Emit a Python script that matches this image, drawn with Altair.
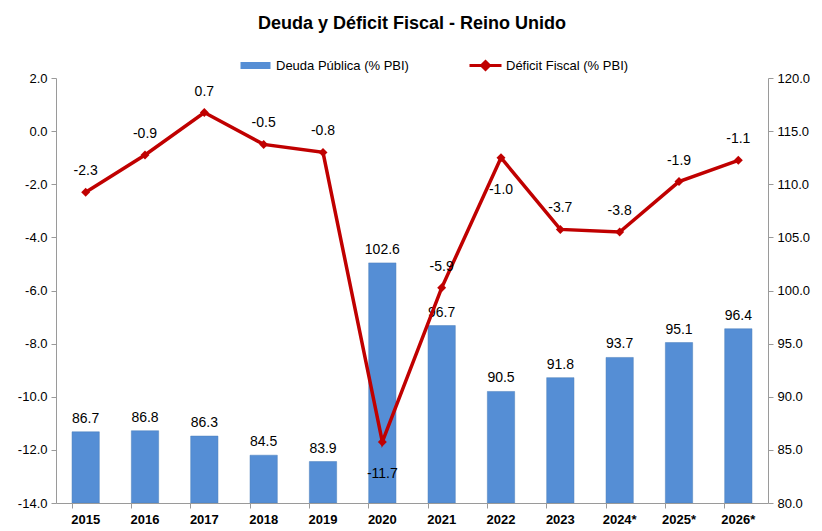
import altair as alt
import pandas as pd

years = ["2015", "2016", "2017", "2018", "2019", "2020", "2021", "2022", "2023", "2024*", "2025*", "2026*"]
deuda = [86.7, 86.8, 86.3, 84.5, 83.9, 102.6, 96.7, 90.5, 91.8, 93.7, 95.1, 96.4]
deficit = [-2.3, -0.9, 0.7, -0.5, -0.8, -11.7, -5.9, -1.0, -3.7, -3.8, -1.9, -1.1]
labels_below = ["2020", "2022"]

df = pd.DataFrame({"year": years, "deuda": deuda, "deficit": deficit,
                   "s1": "Deuda Pública (% PBI)", "s2": "Déficit Fiscal (% PBI)"})

FONT = "Liberation Sans"
BLUE = "#558ED5"
RED = "#C00000"
AX = "#9A9A9A"
LBL = "replace(format(datum.value, '.1f'), '\u2212', '-')"

x = alt.X("year:N", sort=years, title=None,
          scale=alt.Scale(paddingInner=0.54, paddingOuter=0.27),
          axis=alt.Axis(labelAngle=0, labelFontWeight="bold", labelFontSize=13, labelFont=FONT,
                        labelColor="black", bandPosition=0, tickSize=5, domainColor=AX,
                        tickColor=AX, labelPadding=5))

yr = alt.Y("deuda:Q", title=None,
           scale=alt.Scale(domain=[80, 120], nice=False, zero=False),
           axis=alt.Axis(orient="right", values=[80, 85, 90, 95, 100, 105, 110, 115, 120], labelExpr=LBL,
                         grid=False, domainColor=AX, tickColor=AX, tickSize=5,
                         labelFont=FONT, labelFontSize=13, labelColor="black", labelPadding=4))

yl = alt.Y("deficit:Q", title=None,
           scale=alt.Scale(domain=[-14, 2], nice=False, zero=False),
           axis=alt.Axis(orient="left", values=list(range(-14, 3, 2)), labelExpr=LBL,
                         grid=False, domainColor=AX, tickColor=AX, tickSize=5,
                         labelFont=FONT, labelFontSize=13, labelColor="black", labelPadding=4))

bars = alt.Chart(df).mark_bar(stroke="#4A7EBB", strokeWidth=0.5, clip=True).encode(
    x=x, y=yr, y2=alt.datum(80),
    color=alt.Color("s1:N", scale=alt.Scale(range=[BLUE]),
                    legend=alt.Legend(title=None, orient="none", legendX=183, legendY=-19,
                                      symbolType="M-1,-0.7L5,-0.7L5,0.7L-1,0.7Z", symbolSize=100,
                                      labelOffset=24, labelFont=FONT, labelFontSize=13,
                                      labelColor="black", symbolStrokeWidth=0)))
bar_text = alt.Chart(df).transform_calculate(
    lab="replace(format(datum.deuda, '.1f'), '\u2212', '-')"
).mark_text(baseline="bottom", dy=-6, font=FONT, fontSize=14, color="black").encode(
    x=x, y=yr, text="lab:N")

right = alt.layer(bars, bar_text)

line = alt.Chart(df).mark_line(strokeWidth=3.5).encode(
    x=x, y=yl,
    stroke=alt.Stroke("s2:N", scale=alt.Scale(range=[RED]),
                      legend=alt.Legend(title=None, orient="none", legendX=412, legendY=-19,
                                        symbolType="M-1,0L5.4,0M2.2,-0.8L3,0L2.2,0.8L1.4,0Z",
                                        symbolSize=100, symbolStrokeWidth=3, symbolFillColor=RED,
                                        labelOffset=25, labelFont=FONT, labelFontSize=13,
                                        labelColor="black")))
pts = alt.Chart(df).mark_point(shape="diamond", filled=True, size=80, color=RED, opacity=1).encode(x=x, y=yl)

def_lab = "replace(format(datum.deficit, '.1f'), '\u2212', '-')"
txt_above = alt.Chart(df).transform_filter(
    ~alt.FieldOneOfPredicate(field="year", oneOf=labels_below)
).transform_calculate(lab=def_lab).mark_text(
    baseline="bottom", dy=-14, font=FONT, fontSize=14, color="black").encode(
    x=x, y=yl, text="lab:N")
txt_below = alt.Chart(df).transform_filter(
    alt.FieldOneOfPredicate(field="year", oneOf=labels_below)
).transform_calculate(lab=def_lab).mark_text(
    baseline="top", dy=25, font=FONT, fontSize=14, color="black").encode(
    x=x, y=yl, text="lab:N")

left = alt.layer(line, pts, txt_above, txt_below)

chart = alt.layer(right, left).resolve_scale(y="independent", color="independent", stroke="independent").properties(
    width=712, height=425,
    autosize=alt.AutoSizeParams(type="none"),
    padding={"left": 48, "top": 70, "right": 46, "bottom": 24},
    title=alt.TitleParams("Deuda y Déficit Fiscal - Reino Unido", font=FONT, fontSize=18,
                          fontWeight="bold", anchor="middle", color="black", offset=26)
).configure_view(stroke=None)

chart.save("out.html", embed_options={"renderer": "svg", "actions": False})
